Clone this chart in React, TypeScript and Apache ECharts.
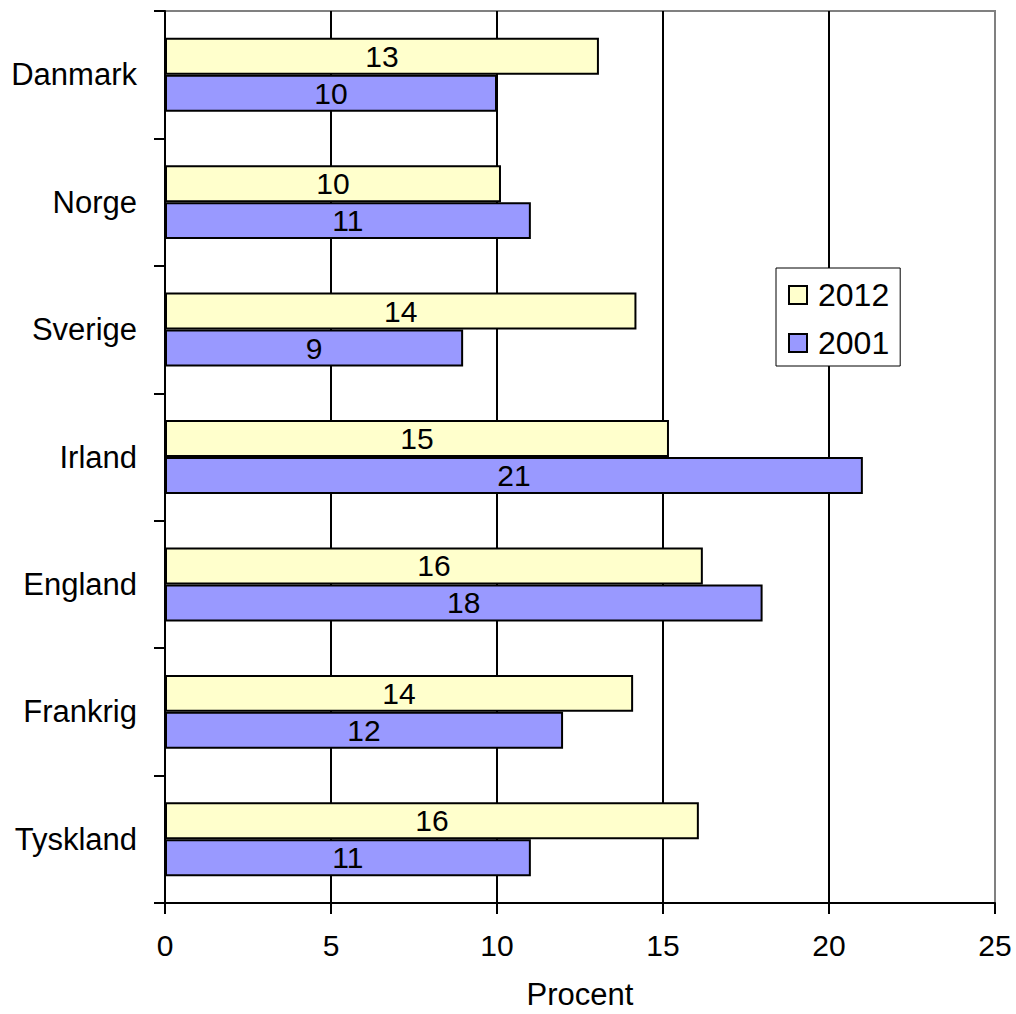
import React, { useEffect, useRef } from "react";
import * as echarts from "echarts";

const categories = ["Danmark", "Norge", "Sverige", "Irland", "England", "Frankrig", "Tyskland"];
const values2012 = [13.07, 10.12, 14.2, 15.18, 16.2, 14.1, 16.08];
const values2001 = [10.0, 11.02, 8.98, 21.02, 18.0, 11.99, 11.02];
const seriesNames = ["2012", "2001"];
const xTicks = { min: 0, max: 25, interval: 5 };
const xName = "Procent";

const FONT = "'Liberation Sans', Arial, sans-serif";

export default function App() {
  const ref = useRef<HTMLDivElement>(null);
  useEffect(() => {
    document.body.style.margin = "0";
    const chart = echarts.init(ref.current!, null, { renderer: "svg" });
    const labelCfg = {
      show: true,
      position: "inside",
      color: "#000",
      fontSize: 30,
      fontFamily: FONT,
      formatter: (p: any) => String(Math.round(p.value)),
    };
    chart.setOption({
      animation: false,
      backgroundColor: "#fff",
      textStyle: { fontFamily: FONT, color: "#000" },
      grid: {
        left: 165,
        top: 11,
        right: 21,
        bottom: 111,
        outerBoundsMode: "none",
        containLabel: false,
        show: true,
        borderColor: "#808080",
        borderWidth: 2,
        backgroundColor: "transparent",
      },
      legend: {
        orient: "vertical",
        left: 776,
        top: 268,
        data: seriesNames,
        backgroundColor: "#fff",
        borderColor: "#000",
        borderWidth: 1,
        padding: [11, 11, 7, 12],
        itemWidth: 18,
        itemHeight: 18,
        itemGap: 16,
        textStyle: { fontSize: 32, color: "#000", fontFamily: FONT, padding: [0, 0, 0, 6] },
        icon: "rect",
      },
      xAxis: {
        type: "value",
        min: xTicks.min,
        max: xTicks.max,
        interval: xTicks.interval,
        name: xName,
        nameLocation: "middle",
        nameGap: 76,
        nameTextStyle: { fontSize: 31, color: "#000", fontFamily: FONT },
        axisLine: { show: true, lineStyle: { color: "#000", width: 2 } },
        axisTick: { show: true, length: 11, lineStyle: { color: "#000", width: 2 } },
        axisLabel: { fontSize: 30, color: "#000", margin: 27, fontFamily: FONT },
        splitLine: {
          show: true,
          showMinLine: false,
          showMaxLine: false,
          lineStyle: { color: "#000", width: 2 },
        },
      },
      yAxis: {
        type: "category",
        data: categories,
        inverse: true,
        axisLine: { show: true, lineStyle: { color: "#000", width: 2 } },
        axisTick: { show: true, length: 11, lineStyle: { color: "#000", width: 2 } },
        axisLabel: { fontSize: 31, color: "#000", margin: 28, fontFamily: FONT },
        splitLine: { show: false },
      },
      series: [
        {
          name: "2012",
          type: "bar",
          data: values2012,
          barGap: "0%",
          barCategoryGap: "42%",
          itemStyle: { color: "#FFFFCC", borderColor: "#000", borderWidth: 2 },
          label: labelCfg,
        },
        {
          name: "2001",
          type: "bar",
          data: values2001,
          barGap: "0%",
          barCategoryGap: "42%",
          itemStyle: { color: "#9999FF", borderColor: "#000", borderWidth: 2 },
          label: labelCfg,
        },
      ],
    });
    return () => chart.dispose();
  }, []);
  return <div ref={ref} style={{ width: 1016, height: 1014 }} />;
}
